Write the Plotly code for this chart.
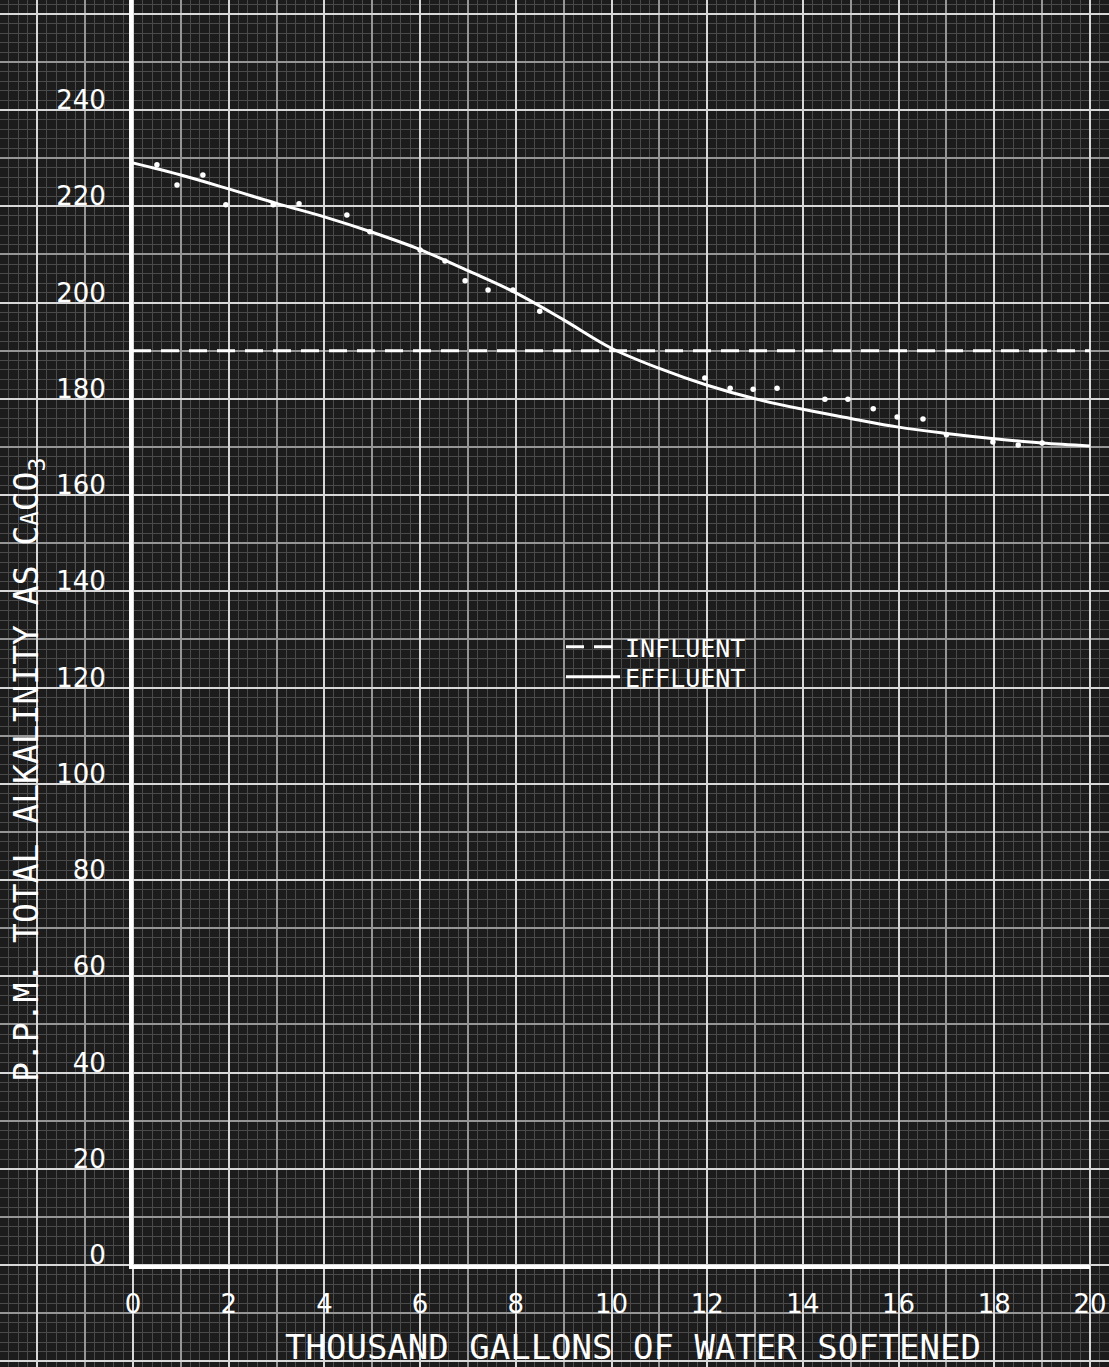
import plotly.graph_objects as go

# ---------------- data ----------------
x_ticks = [0, 2, 4, 6, 8, 10, 12, 14, 16, 18, 20]
y_ticks = [0, 20, 40, 60, 80, 100, 120, 140, 160, 180, 200, 220, 240]

effluent_x = [0, 1, 2, 3, 4, 5, 6, 7, 8, 9, 10, 11, 12, 13, 14, 15, 16, 17, 18, 19, 20]
effluent_y = [229.0, 226.5, 223.6, 220.6, 217.8, 214.6, 211.0, 206.6, 202.0, 196.4, 190.5,
              186.3, 182.8, 180.0, 177.8, 175.9, 174.1, 172.8, 171.7, 170.8, 170.2]

sample_x = [0.50, 0.92, 1.46, 1.94, 2.93, 3.47, 4.47, 4.95, 6.00, 6.52, 6.94, 7.42, 7.94, 8.50,
            11.95, 12.48, 12.96, 13.46, 14.46, 14.94, 15.47, 15.97, 16.51, 17.00, 17.97, 18.50, 19.00]
sample_y = [228.6, 224.4, 226.5, 220.3, 220.3, 220.5, 218.2, 214.7, 210.9, 208.6, 204.5, 202.6, 202.6, 198.2,
            184.3, 182.2, 182.0, 182.2, 179.9, 179.9, 177.9, 176.2, 175.8, 172.5, 171.0, 170.4, 170.8]

influent_value = 190

x_title = "THOUSAND GALLONS OF WATER SOFTENED"
y_title = "P.P.M. TOTAL ALKALINITY AS C<span style='font-size:24px'>A</span>CO<sub>3</sub>"

# ---------------- geometry (page pixels) ----------------
W, H = 1109, 1367
X0_PX, XMAX_PX = 133, 1090
Y0_PX, Y240_PX = 1265, 110
x_lo, x_hi = x_ticks[0], x_ticks[-1]
sx = (XMAX_PX - X0_PX) / (x_hi - x_lo)
sy = (Y0_PX - Y240_PX) / (y_ticks[-1] - y_ticks[0])

full_x = [x_lo - X0_PX / sx, x_lo + (W - X0_PX) / sx]
full_y = [-(H - Y0_PX) / sy, Y0_PX / sy]
data_y_top = Y0_PX / sy

BG = "#1c1c1c"
FONT = "DejaVu Sans"
MONO = "DejaVu Sans Mono"

fig = go.Figure()

# invisible traces to instantiate the graph-paper grid subplots
for k in ["", "2", "3"]:
    fig.add_trace(go.Scatter(x=[None], y=[None], xaxis="x" + k, yaxis="y" + k,
                             showlegend=False, hoverinfo="skip"))

# influent
fig.add_trace(go.Scatter(
    x=[x_lo, x_hi], y=[influent_value, influent_value], mode="lines",
    line=dict(color="white", width=3, dash="18px,10px"),
    name="INFLUENT", legend="legend", xaxis="x4", yaxis="y4"))

# effluent curve
fig.add_trace(go.Scatter(
    x=effluent_x, y=effluent_y, mode="lines",
    line=dict(color="white", width=3, shape="spline", smoothing=1.0),
    name="EFFLUENT", legend="legend2", xaxis="x4", yaxis="y4"))

# sample points
fig.add_trace(go.Scatter(
    x=sample_x, y=sample_y, mode="markers",
    marker=dict(color="white", size=5.5),
    showlegend=False, xaxis="x4", yaxis="y4"))

def grid_axis(rng, dtick, color, width, **kw):
    d = dict(range=rng, dtick=dtick, tick0=0, showgrid=True, gridcolor=color,
             gridwidth=width, zeroline=False, showticklabels=False, ticks="",
             showline=False, domain=[0, 1], fixedrange=True, automargin=False)
    d.update(kw)
    return d

legend_common = dict(xanchor="left", yanchor="top", bgcolor="rgba(0,0,0,0)",
                     borderwidth=0, itemwidth=54,
                     font=dict(family=MONO, size=25, color="white"))

fig.update_layout(
    width=W - 16, height=H - 16,
    margin=dict(l=0, r=0, t=0, b=0, pad=0),
    paper_bgcolor=BG, plot_bgcolor="rgba(0,0,0,0)",
    xaxis=grid_axis(full_x, 0.2, "#4a4a4a", 1, anchor="y"),
    yaxis=grid_axis(full_y, 2, "#4a4a4a", 1, anchor="x"),
    xaxis2=grid_axis(full_x, 1, "#969696", 1.6, anchor="y2", overlaying="x"),
    yaxis2=grid_axis(full_y, 10, "#969696", 1.6, anchor="x2", overlaying="y"),
    xaxis3=grid_axis(full_x, 2, "#d8d8d8", 2.4, anchor="y3", overlaying="x"),
    yaxis3=grid_axis(full_y, 20, "#d8d8d8", 2.4, anchor="x3", overlaying="y"),
    xaxis4=dict(domain=[X0_PX / W, XMAX_PX / W], range=[x_lo, x_hi], anchor="y4",
                showgrid=False, zeroline=False, showline=True, linecolor="white", linewidth=4,
                ticks="", tickvals=x_ticks, ticktext=[str(v) for v in x_ticks],
                ticklabelstandoff=13, automargin=False,
                tickfont=dict(family=FONT, size=26, color="white"), fixedrange=True),
    yaxis4=dict(domain=[(H - Y0_PX) / H, 1], range=[0, data_y_top], anchor="x4",
                showgrid=False, zeroline=False, showline=True, linecolor="white", linewidth=4,
                ticks="", tickvals=y_ticks, ticktext=[str(v) for v in y_ticks],
                ticklabelstandoff=18, ticklabelshift=-10, automargin=False,
                tickfont=dict(family=FONT, size=26, color="white"), fixedrange=True),
    legend=dict(x=561 / W, y=1 - 624 / H, **legend_common),
    legend2=dict(x=561 / W, y=1 - 654 / H, **legend_common),
    annotations=[
        dict(text=x_title, xref="paper", yref="paper", x=633 / W, y=1 - 1347 / H,
             xanchor="center", yanchor="middle", showarrow=False,
             font=dict(family=MONO, size=34, color="white")),
        dict(text=y_title, xref="paper", yref="paper", x=28 / W, y=1 - 770 / H,
             xanchor="center", yanchor="middle", showarrow=False, textangle=-90,
             font=dict(family=MONO, size=33, color="white")),
    ],
    showlegend=True,
)

post = ("var gd=document.getElementById('{plot_id}');"
        "document.documentElement.style.margin='0px';"
        "document.body.style.margin='0px';"
        "document.body.style.overflow='hidden';"
        "document.body.style.background='" + BG + "';"
        "Plotly.relayout(gd,{width:" + str(W) + ",height:" + str(H) + "});")

fig.write_html("out.html", config={"displayModeBar": False}, post_script=post)
